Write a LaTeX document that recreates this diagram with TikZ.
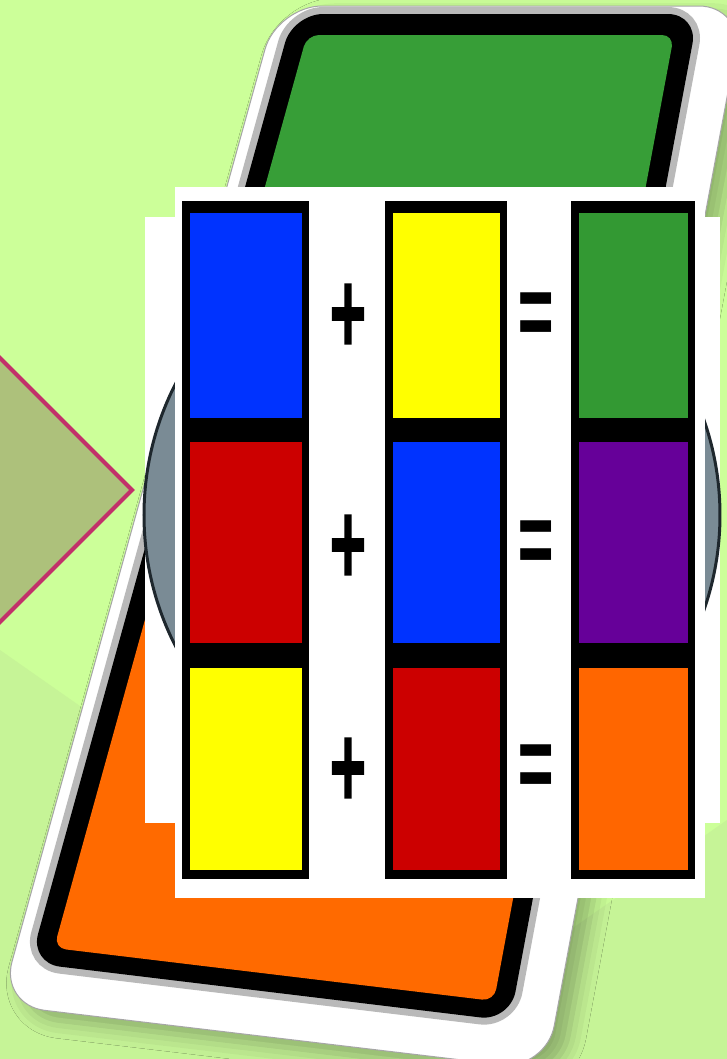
\documentclass[tikz,border=0pt]{standalone}
\usepackage{fontspec}
\newfontfamily\signfont[FakeBold=3]{DejaVu Sans Bold}
\newfontfamily\eqfont{DejaVu Sans}
\usetikzlibrary{shadows.blur}
\definecolor{bggreen}{HTML}{CCFF99}
\definecolor{bgshade}{HTML}{C6F497}
\definecolor{kitefill}{HTML}{ADC17B}
\definecolor{kiteline}{HTML}{C2306A}
\definecolor{phonegreen}{HTML}{379E37}
\definecolor{phoneorange}{HTML}{FF6A00}
\definecolor{lensgray}{HTML}{7A8B95}
\definecolor{lensrim}{HTML}{1E272D}
\definecolor{cblue}{HTML}{0033FF}
\definecolor{cyellow}{HTML}{FFFF00}
\definecolor{cgreen}{HTML}{339933}
\definecolor{cred}{HTML}{CC0000}
\definecolor{cpurple}{HTML}{660099}
\definecolor{corange}{HTML}{FF6600}
\tikzset{
  rim/.style={fill=white, draw=gray!70, line width=0.01cm, rounded corners=0.45cm},
  bezel/.style={fill=black, rounded corners=0.3cm, preaction={draw=gray!55, line width=0.14cm}},
  screen/.style={rounded corners=0.12cm},
  card/.style={fill=white},
  strip/.style={fill=black},
  kite/.style={fill=kitefill, draw=kiteline, line width=0.04cm, line join=miter},
  plussign/.style={font=\signfont\fontsize{14}{14}\selectfont, inner sep=0pt},
  eqsign/.style={font=\eqfont\fontsize{14}{14}\selectfont, inner sep=0pt}
}

\begin{document}
\begin{tikzpicture}[x=0.01cm, y=-0.01cm]
  \useasboundingbox (0,0) rectangle (727,1059);
  \clip (0,0) rectangle (727,1059);
  % background
  \fill[bggreen] (0,0) rectangle (727,1059);
  \fill[bgshade] (0,650) -- (584,1059) -- (0,1059) -- cycle;
  \fill[bgshade] (727,820) -- (727,1059) -- (386,1059) -- cycle;
  % diamond at the left edge
  \draw[kite] (-13,345) -- (132,490) -- (-13,635) -- (-158,490) -- cycle;
  % tilted phone
  \path[rim, blur shadow={shadow xshift=0.14cm, shadow yshift=-0.1cm, shadow blur radius=0.18cm, shadow opacity=30}]
    (277,6) -- (744,6) -- (546,1070) -- (0,1005) -- cycle;
  \path[bezel] (293,14) -- (698,14) -- (510,1021) -- (30,963) -- cycle;
  \begin{scope}
    \clip[screen] (307,35) -- (674,35) -- (494,1001) -- (54,948) -- cycle;
    \fill[phonegreen] (0,0) rectangle (744,520);
    \fill[phoneorange] (0,520) rectangle (744,1070);
  \end{scope}
  % white panel with the lens
  \fill[card] (145,217) rectangle (720,823);
  \draw[fill=lensgray, draw=lensrim, line width=0.03cm] (432,515) circle (288);
  % colour table
  \fill[card] (175,187) rectangle (705,898);
  \foreach \xa/\xb/\ca/\cb/\cc in {182/309/cblue/cred/cyellow, 385/507/cyellow/cblue/cred, 571/695/cgreen/cpurple/corange} {
    \fill[strip] (\xa,201) rectangle (\xb,879);
    \fill[\ca] (\xa+8,213) rectangle (\xb-7,418);
    \fill[\cb] (\xa+8,442) rectangle (\xb-7,643);
    \fill[\cc] (\xa+8,668) rectangle (\xb-7,870);
  }
  \node[plussign] (plus1) at (348,314) {\scalebox{1}[1.9]{+}};
  \node[plussign] (plus2) at (348,545) {\scalebox{1}[1.9]{+}};
  \node[plussign] (plus3) at (348,768) {\scalebox{1}[1.9]{+}};
  \node[eqsign] (eq1) at (536,325) {\scalebox{1}[2.85]{=}};
  \node[eqsign] (eq2) at (536,553) {\scalebox{1}[2.85]{=}};
  \node[eqsign] (eq3) at (536,777) {\scalebox{1}[2.85]{=}};
\end{tikzpicture}
\end{document}
